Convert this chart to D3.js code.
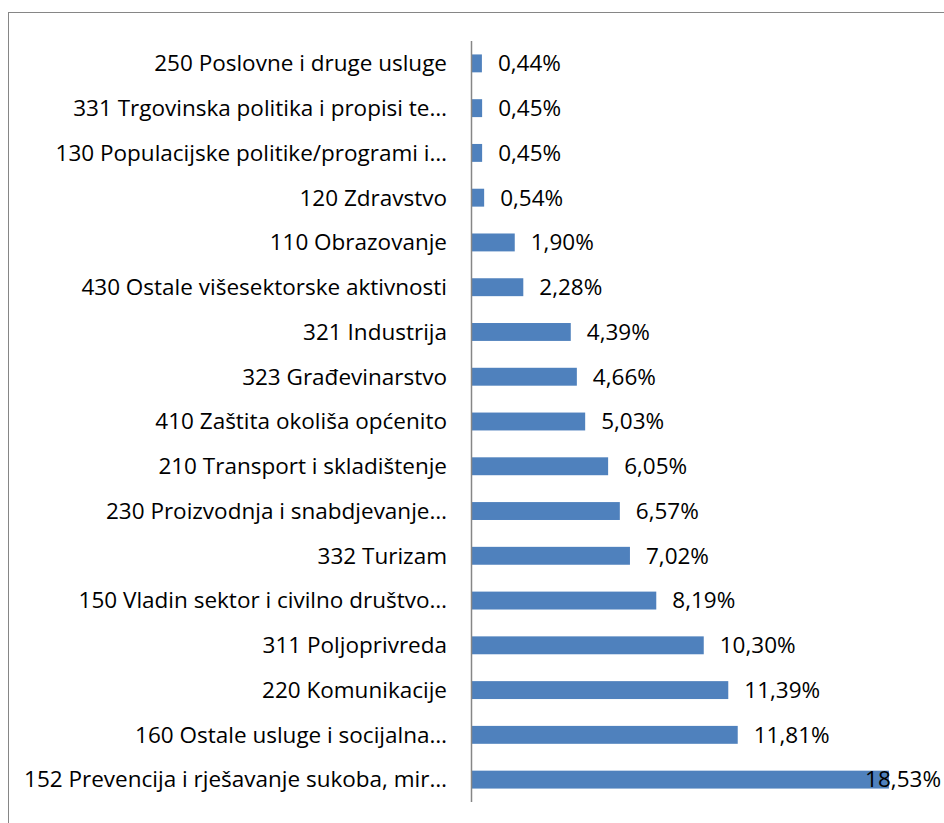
<!DOCTYPE html>
<html>
<head>
<meta charset="utf-8">
<script src="https://cdn.jsdelivr.net/npm/d3@7"></script>
<style>
  body { margin: 0; background: #fff; }
  text { font-family: "Open Sans", "Liberation Sans", sans-serif; }
</style>
</head>
<body>
<svg id="chart" width="944" height="823"></svg>
<script>
const categories = [
  '250 Poslovne i druge usluge',
  '331 Trgovinska politika i propisi te…',
  '130 Populacijske politike/programi i…',
  '120 Zdravstvo',
  '110 Obrazovanje',
  '430 Ostale višesektorske aktivnosti',
  '321 Industrija',
  '323 Građevinarstvo',
  '410 Zaštita okoliša općenito',
  '210 Transport i skladištenje',
  '230 Proizvodnja i snabdjevanje…',
  '332 Turizam',
  '150 Vladin sektor i civilno društvo…',
  '311 Poljoprivreda',
  '220 Komunikacije',
  '160 Ostale usluge i socijalna…',
  '152 Prevencija i rješavanje sukoba, mir…'
];
const values = [0.44, 0.45, 0.45, 0.54, 1.90, 2.28, 4.39, 4.66, 5.03, 6.05, 6.57, 7.02, 8.19, 10.30, 11.39, 11.81, 18.53];
const valueLabels = ['0,44%', '0,45%', '0,45%', '0,54%', '1,90%', '2,28%', '4,39%', '4,66%', '5,03%', '6,05%', '6,57%', '7,02%', '8,19%', '10,30%', '11,39%', '11,81%', '18,53%'];

const svg = d3.select('#chart');
const width = 944;
const margin = { top: 41, bottom: 21, left: 472, right: 22 };
const innerHeight = 823 - margin.top - margin.bottom;
const fontSize = 22.5;

// outer chart border
svg.append('rect')
  .attr('x', 8.5).attr('y', 12.5)
  .attr('width', 960).attr('height', 900)
  .attr('fill', 'none')
  .attr('stroke', '#868686')
  .attr('stroke-width', 1);

const x = d3.scaleLinear().domain([0, 20]).range([margin.left, width - margin.right]);
const y = d3.scaleBand().domain(categories).range([margin.top, margin.top + innerHeight]).paddingInner(0.6).paddingOuter(0.3);

const g = svg.append('g');

g.selectAll('rect.bar')
  .data(values)
  .join('rect')
  .attr('class', 'bar')
  .attr('x', x(0))
  .attr('y', (d, i) => y(categories[i]))
  .attr('width', d => x(d) - x(0))
  .attr('height', y.bandwidth())
  .attr('fill', '#4F81BD');

// category axis
g.append('line')
  .attr('x1', x(0) - 0.5).attr('x2', x(0) - 0.5)
  .attr('y1', margin.top).attr('y2', margin.top + innerHeight)
  .attr('stroke', '#868686')
  .attr('stroke-width', 1.5);

g.selectAll('text.cat')
  .data(categories)
  .join('text')
  .attr('class', 'cat')
  .attr('x', x(0) - 25)
  .attr('y', d => y(d) + y.bandwidth() / 2)
  .attr('dy', '0.35em')
  .attr('text-anchor', 'end')
  .attr('font-size', fontSize)
  .attr('fill', '#000')
  .text(d => d);

g.selectAll('text.val')
  .data(values)
  .join('text')
  .attr('class', 'val')
  .attr('y', (d, i) => y(categories[i]) + y.bandwidth() / 2)
  .attr('dy', '0.35em')
  .attr('font-size', fontSize)
  .attr('fill', '#000')
  .text((d, i) => valueLabels[i])
  .each(function (d) {
    // Excel pushes a label that would overflow back inside the chart area
    const w = this.getComputedTextLength();
    const pos = Math.min(x(d) + 16, width - 3 - w);
    d3.select(this).attr('x', pos);
  });
</script>
</body>
</html>
